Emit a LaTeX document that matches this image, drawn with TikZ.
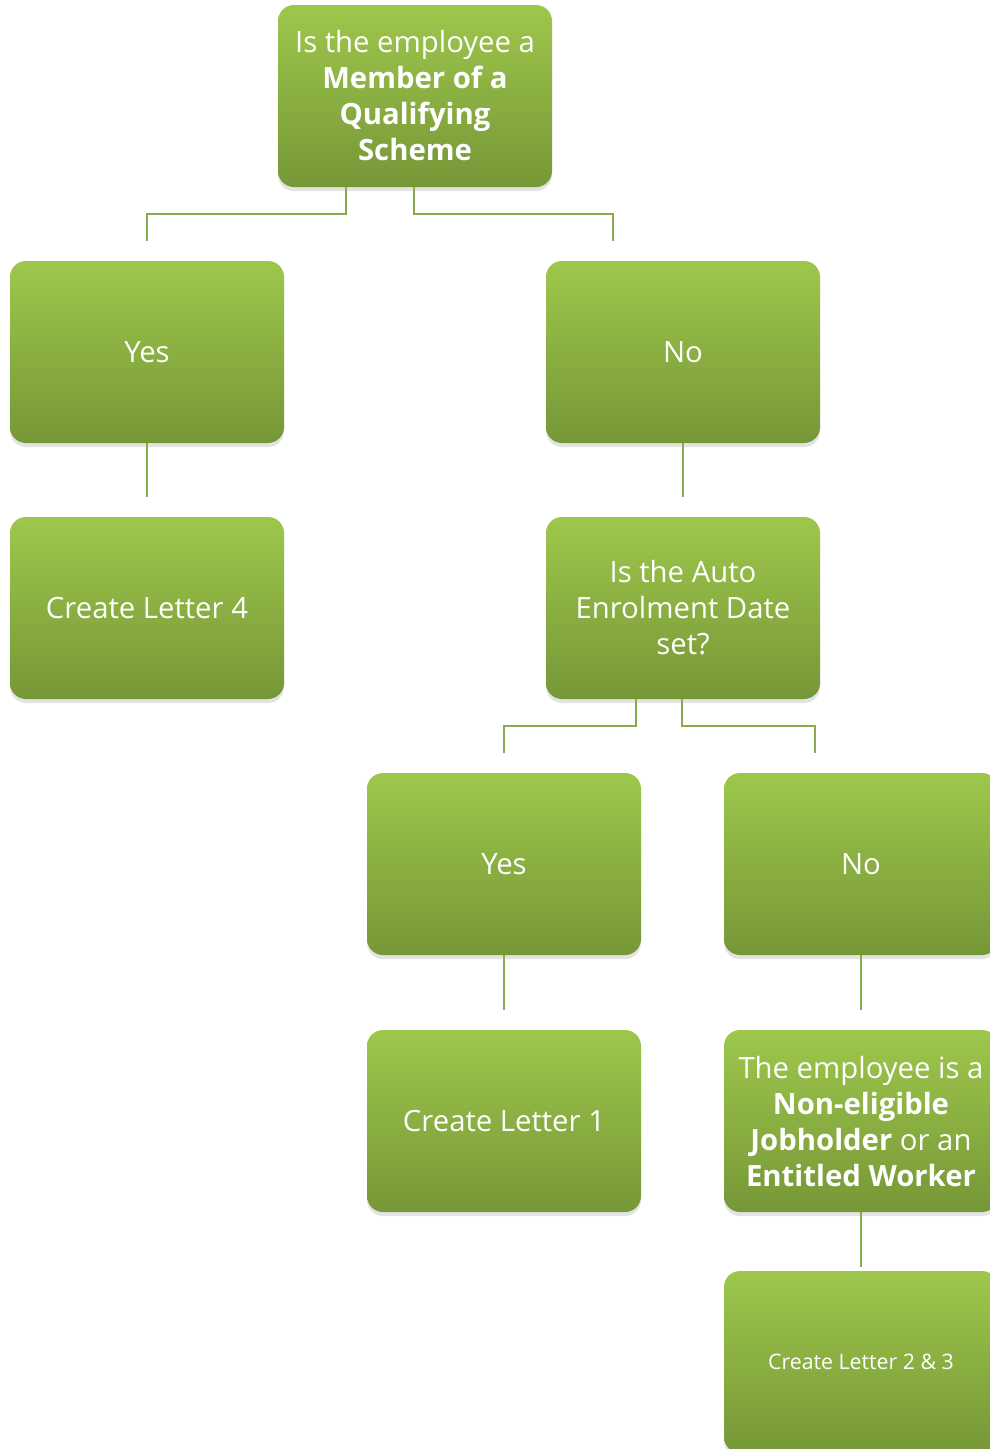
\documentclass[tikz,border=0pt]{standalone}
\usepackage{fontspec}
\setmainfont{Open Sans}
\usetikzlibrary{shadows,calc}
\definecolor{gtop}{RGB}{158,199,76}
\definecolor{gbot}{RGB}{118,151,55}
\definecolor{lineg}{RGB}{138,170,80}
\tikzset{
  box/.style={rectangle, rounded corners=16pt, minimum width=274pt, minimum height=182pt,
    top color=gtop, bottom color=gbot, draw=none, text=white, align=center,
    inner sep=2pt,
    drop shadow={shadow xshift=0pt, shadow yshift=-4pt, opacity=0.18, fill=black!60}},
  big/.style={font=\fontsize{29.3}{40}\selectfont},
  mid/.style={font=\fontsize{29.3}{36}\selectfont},
  small/.style={font=\fontsize{21.3}{28}\selectfont},
  conn/.style={draw=lineg, line width=2pt}
}
\begin{document}
\begin{tikzpicture}[x=1pt,y=-1pt]
\clip (0,0) rectangle (990,1449);
\fill[white] (0,0) rectangle (990,1449);
\node[box,mid] (top) at (415,96) {Is the employee a\\\textbf{Member of a}\\\textbf{Qualifying}\\\textbf{Scheme}};
\node[box,big] (yesL) at (147,352) {Yes};
\node[box,big] (cl4) at (147,608) {Create Letter 4};
\node[box,big] (noR) at (683,352) {No};
\node[box,mid] (auto) at (683,608) {Is the Auto\\Enrolment Date\\set?};
\node[box,big] (yes2) at (504,864) {Yes};
\node[box,big] (no2) at (861,864) {No};
\node[box,big] (cl1) at (504,1121) {Create Letter 1};
\node[box,mid] (nonel) at (861,1121) {The employee is a\\\textbf{Non-eligible}\\\textbf{Jobholder} or an\\\textbf{Entitled Worker}};
\node[box,small] (cl23) at (861,1362) {Create Letter 2 \& 3};

\draw[conn] ([xshift=-69pt]top.south) -- ++(0,27) -| ([yshift=20pt]yesL.north);
\draw[conn] ([xshift=-1pt]top.south) -- ++(0,27) -| ([xshift=-70pt,yshift=20pt]noR.north);
\draw[conn] (yesL.south) -- ([yshift=20pt]cl4.north);
\draw[conn] (noR.south) -- ([yshift=20pt]auto.north);
\draw[conn] ([xshift=-47pt]auto.south) -- ++(0,27) -| ([yshift=20pt]yes2.north);
\draw[conn] ([xshift=-1pt]auto.south) -- ++(0,27) -| ([xshift=-46pt,yshift=20pt]no2.north);
\draw[conn] (yes2.south) -- ([yshift=20pt]cl1.north);
\draw[conn] (no2.south) -- ([yshift=20pt]nonel.north);
\draw[conn] (nonel.south) -- ([yshift=4pt]cl23.north);
\end{tikzpicture}
\end{document}
